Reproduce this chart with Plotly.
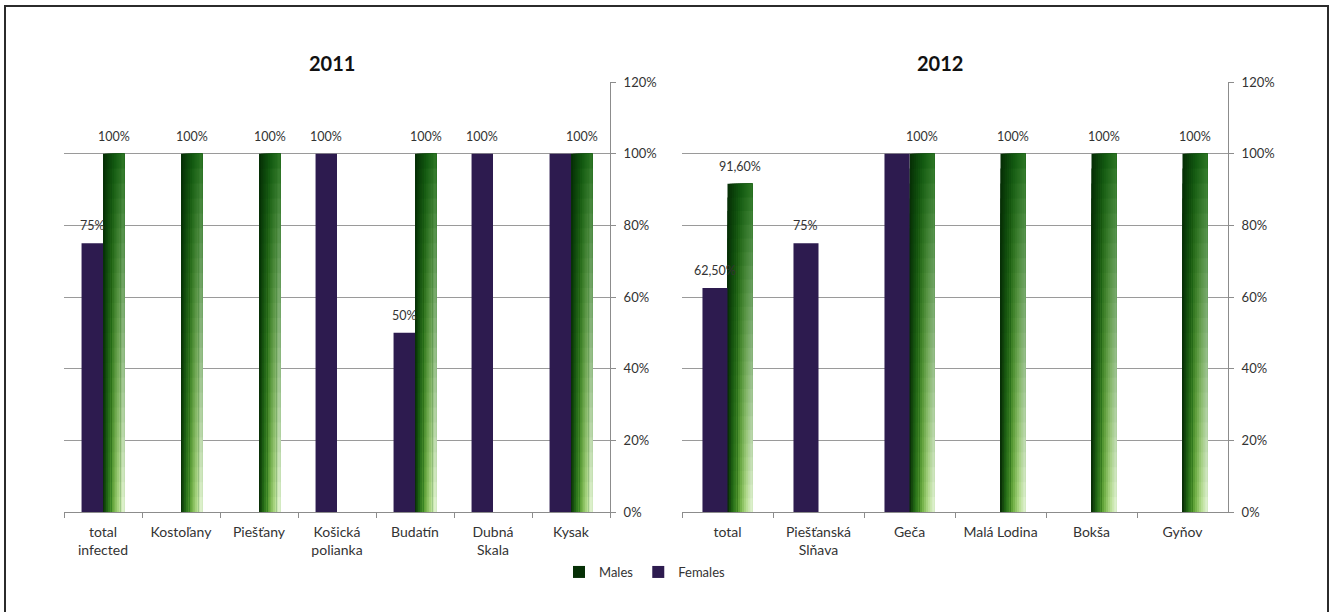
import plotly.graph_objects as go

# Share of infected animals by sex, per locality
sites_2011 = ["total<br>infected", "Kostoľany", "Piešťany", "Košická<br>polianka",
              "Budatín", "Dubná<br>Skala", "Kysak"]
males_2011 = [100, 100, 100, 0, 100, 0, 100]
females_2011 = [75, 0, 0, 100, 50, 100, 100]

sites_2012 = ["total", "Piešťanská<br>Slňava", "Geča", "Malá Lodina", "Bokša", "Gyňov"]
males_2012 = [91.6, 0, 100, 100, 100, 100]
females_2012 = [62.5, 75, 100, 0, 0, 0]

y_ticks = [0, 20, 40, 60, 80, 100, 120]

W, H = 1335, 612
FONT = "Lato"
TXT = "#333333"
FEMALE = "#2d1b4f"
BW = 0.275  # bar width in category units

# gradient stops for the male bars (left -> right), at top and at bottom
TOP_STOPS = [(0.0, (5, 45, 5)), (0.5, (14, 84, 14)), (1.0, (40, 115, 32))]
BOT_STOPS = [(0.0, (5, 36, 5)), (0.25, (40, 115, 25)), (0.5, (110, 175, 65)),
             (0.75, (182, 222, 142)), (1.0, (232, 246, 218))]


def interp(stops, s):
    for (a, ca), (b, cb) in zip(stops, stops[1:]):
        if s <= b:
            f = (s - a) / (b - a)
            return [ca[k] + (cb[k] - ca[k]) * f for k in range(3)]
    return list(stops[-1][1])


def grad_color(s, t):
    top = interp(TOP_STOPS, s)
    bot = interp(BOT_STOPS, s)
    t = t ** 0.9
    c = [top[k] * (1 - t) + bot[k] * t for k in range(3)]
    return "rgb(%d,%d,%d)" % tuple(int(round(v)) for v in c)


def fmt(v):
    if v == int(v):
        return "%d%%" % v
    return ("%.2f" % v).replace(".", ",") + "%"


fig = go.Figure()

NC, NR = 12, 24
panels = [
    ("x", "y", sites_2011, males_2011, females_2011, True),
    ("x2", "y2", sites_2012, males_2012, females_2012, False),
]

annotations = []
for xa, ya, cats, males, females, legend in panels:
    # male bars: overlapping column/row slices build a 2-D gradient
    for j in range(NC):
        off = j * BW / NC
        for i in range(NR):
            frac = 1 - i / NR
            fig.add_trace(go.Bar(
                x=cats, y=[m * frac for m in males],
                offset=off, width=BW - off,
                marker=dict(color=grad_color((j + 0.5) / NC, (i + 0.5) / NR), line=dict(width=0)),
                xaxis=xa, yaxis=ya, name="Males",
                showlegend=(legend and i == 0 and j == 0), legendrank=1,
                hoverinfo="skip",
            ))
    fig.add_trace(go.Bar(
        x=cats, y=females, offset=-BW, width=BW,
        marker=dict(color=FEMALE, line=dict(width=0)),
        xaxis=xa, yaxis=ya, name="Females", showlegend=legend, legendrank=2,
    ))
    # value labels above the bars
    for k, (m, f) in enumerate(zip(males, females)):
        if m > 0:
            annotations.append(dict(x=k + BW / 2, y=m, xref=xa, yref=ya, text=fmt(m),
                                    showarrow=False, yanchor="bottom", yshift=8,
                                    font=dict(family=FONT, size=12.5, color=TXT)))
        if f > 0 and f != m:
            annotations.append(dict(x=k - BW / 2, y=f, xref=xa, yref=ya, text=fmt(f),
                                    showarrow=False, yanchor="bottom", yshift=8,
                                    font=dict(family=FONT, size=12.5, color=TXT)))

# panel titles
for label, px in (("2011", 332), ("2012", 940)):
    annotations.append(dict(x=px / W, y=1 - 63 / H, xref="paper", yref="paper",
                            text=f"<b>{label}</b>", showarrow=False,
                            xanchor="center", yanchor="middle",
                            font=dict(family=FONT, size=20, color="#111")))

xaxis_common = dict(type="category", showline=True, linecolor="#8c8c8c", linewidth=1,
                    ticks="outside", tickson="boundaries", ticklen=5, tickcolor="#8c8c8c",
                    ticklabelstandoff=7,
                    showgrid=False, tickfont=dict(family=FONT, size=14, color=TXT),
                    automargin=False, fixedrange=True)
yaxis_common = dict(range=[0, 120], tickvals=y_ticks, ticktext=[f"{v}%" for v in y_ticks],
                    side="right", showline=True, linecolor="#8c8c8c", linewidth=1,
                    ticks="outside", ticklen=5, tickcolor="#8c8c8c", ticklabelstandoff=5,
                    showgrid=True, gridcolor="#9a9a9a", gridwidth=1, zeroline=False,
                    tickfont=dict(family=FONT, size=13, color=TXT),
                    automargin=False, fixedrange=True)

ydom = [1 - 512 / H, 1 - 82 / H]
fig.update_layout(
    width=W, height=H,
    margin=dict(l=0, r=0, t=0, b=0, autoexpand=False),
    paper_bgcolor="white", plot_bgcolor="white",
    barmode="overlay",
    xaxis=dict(domain=[64 / W, 610 / W], anchor="y", **xaxis_common),
    yaxis=dict(domain=ydom, anchor="x", **yaxis_common),
    xaxis2=dict(domain=[682 / W, 1228 / W], anchor="y2", **xaxis_common),
    yaxis2=dict(domain=ydom, anchor="x2", **yaxis_common),
    legend=dict(orientation="h", x=645 / W, xanchor="center", y=1 - 572 / H, yanchor="middle",
                font=dict(family=FONT, size=13, color=TXT), bgcolor="rgba(0,0,0,0)",
                itemwidth=30),
    annotations=annotations,
    shapes=[dict(type="rect", xref="paper", yref="paper",
                 x0=5 / W, x1=1328 / W, y0=-0.05, y1=1 - 6 / H,
                 line=dict(color="#2b2b2b", width=2), fillcolor="rgba(0,0,0,0)", layer="below")],
    showlegend=True,
)

fig.write_html("out.html")
